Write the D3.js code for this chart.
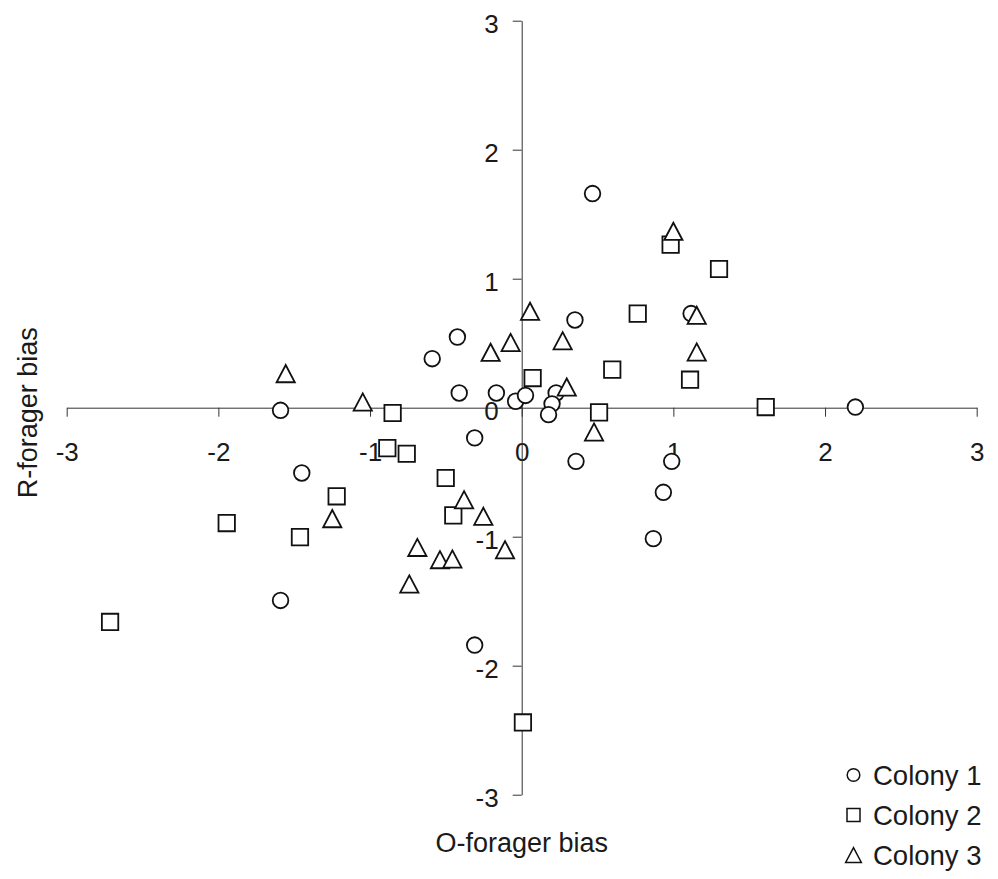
<!DOCTYPE html>
<html>
<head>
<meta charset="utf-8">
<script src="https://cdn.jsdelivr.net/npm/d3@7"></script>
<style>
  html, body { margin: 0; padding: 0; background: #fff; }
  svg { display: block; font-family: "Liberation Sans", Arial, Helvetica, sans-serif; }
</style>
</head>
<body>
<svg id="chart" width="998" height="879"></svg>
<script>
// ---- data ----
const tickValues = [-3, -2, -1, 0, 1, 2, 3];
const tickLabels = ["-3", "-2", "-1", "0", "1", "2", "3"];
const seriesNames = ["Colony 1", "Colony 2", "Colony 3"];
const colony1X = [0.467, 0.351, 1.117, 2.2, -0.424, -0.59, -0.412, -0.167, -0.04, 0.025, 0.227, 0.2, 0.177, -0.31, 0.358, 0.989, 0.934, 0.868, -1.59, -1.45, -1.59, -0.31];
const colony1Y = [1.66, 0.68, 0.73, 0.005, 0.548, 0.38, 0.114, 0.114, 0.05, 0.095, 0.114, 0.03, -0.054, -0.234, -0.416, -0.416, -0.656, -1.015, -0.02, -0.506, -1.494, -1.84];
const colony2X = [0.982, 1.301, 0.765, 0.597, 1.11, 0.072, 1.609, 0.51, -0.851, -0.886, -0.758, -0.501, -0.451, -1.22, -1.945, -1.462, -2.714, 0.008];
const colony2Y = [1.264, 1.075, 0.729, 0.295, 0.217, 0.23, 0.005, -0.036, -0.041, -0.313, -0.357, -0.545, -0.835, -0.687, -0.894, -1.003, -1.661, -2.44];
const colony3X = [1.0, 0.055, 1.154, -0.073, 0.27, 1.154, 0.297, 0.477, -0.205, -1.556, -1.048, -0.38, -1.249, -0.253, -0.688, -0.539, -0.457, -0.11, -0.741];
const colony3Y = [1.367, 0.747, 0.716, 0.506, 0.519, 0.432, 0.16, -0.188, 0.429, 0.264, 0.044, -0.713, -0.86, -0.842, -1.083, -1.178, -1.173, -1.101, -1.367];
const xTitle = "O-forager bias";
const yTitle = "R-forager bias";

// ---- layout ----
const svg = d3.select("#chart");
const x = d3.scaleLinear().domain([-3, 3]).range([66.7, 976.7]);
const y = d3.scaleLinear().domain([-3, 3]).range([794.7, 20.7]);
const ink = "#1a1a1a";
const axisColor = "#333";
const fontSize = 26;

// shapes (centered on bounding box)
function shapePath(kind, s) {
  const p = d3.path();
  if (kind === 0) {
    p.arc(0, 0, s, 0, 2 * Math.PI);
  } else if (kind === 1) {
    p.rect(-s, -s, 2 * s, 2 * s);
  } else {
    const hw = s * 1.06, hh = s;
    p.moveTo(0, -hh); p.lineTo(hw, hh); p.lineTo(-hw, hh); p.closePath();
  }
  return p.toString();
}

const fmt = d => tickLabels[tickValues.indexOf(d)];

// axes
const xAxis = d3.axisBottom(x).tickValues(tickValues).tickFormat(fmt)
  .tickSize(9).tickSizeOuter(0).tickPadding(26);
const yAxis = d3.axisLeft(y).tickValues(tickValues).tickFormat(fmt)
  .tickSize(9).tickSizeOuter(0).tickPadding(14);

const gx = svg.append("g").attr("transform", `translate(0,${y(0)})`).call(xAxis);
const gy = svg.append("g").attr("transform", `translate(${x(0)},0)`).call(yAxis);
[gx, gy].forEach(g => {
  g.select(".domain").attr("stroke", axisColor).attr("stroke-width", 1);
  g.selectAll(".tick line").attr("stroke", axisColor).attr("stroke-width", 1);
  g.selectAll(".tick text").attr("fill", ink).style("font-size", fontSize + "px")
    .style("font-family", '"Liberation Sans", Arial, sans-serif');
});
gy.selectAll(".tick text").attr("dy", "0.44em");
gx.attr("font-size", null); gy.attr("font-size", null);

// axis titles
svg.append("text").attr("x", x(0)).attr("y", 852).attr("text-anchor", "middle")
  .attr("fill", ink).style("font-size", "27px").text(xTitle);
svg.append("text").attr("transform", `translate(37,${y(0) + 5}) rotate(-90)`)
  .attr("text-anchor", "middle").attr("fill", ink).style("font-size", "27px").text(yTitle);

// points
const seriesX = [colony1X, colony2X, colony3X];
const seriesY = [colony1Y, colony2Y, colony3Y];
const markerSize = [7.8, 8.2, 8.6];
seriesX.forEach((xs, k) => {
  const pts = xs.map((v, i) => [v, seriesY[k][i]]);
  svg.append("g").selectAll("path").data(pts).join("path")
    .attr("d", shapePath(k, markerSize[k]))
    .attr("transform", d => `translate(${x(d[0])},${y(d[1])})`)
    .attr("fill", "#fff").attr("stroke", "#111").attr("stroke-width", 1.8);
});

// legend
const legend = svg.append("g");
seriesNames.forEach((name, k) => {
  const cy = 775 + k * 40;
  legend.append("path").attr("d", shapePath(k, k === 0 ? 6.3 : (k === 1 ? 6.5 : 7.4)))
    .attr("transform", `translate(853.5,${cy})`)
    .attr("fill", "#fff").attr("stroke", "#111").attr("stroke-width", 1.5);
  legend.append("text").attr("x", 873).attr("y", cy + 10).attr("fill", ink)
    .style("font-size", "27.5px").text(name);
});
</script>
</body>
</html>
